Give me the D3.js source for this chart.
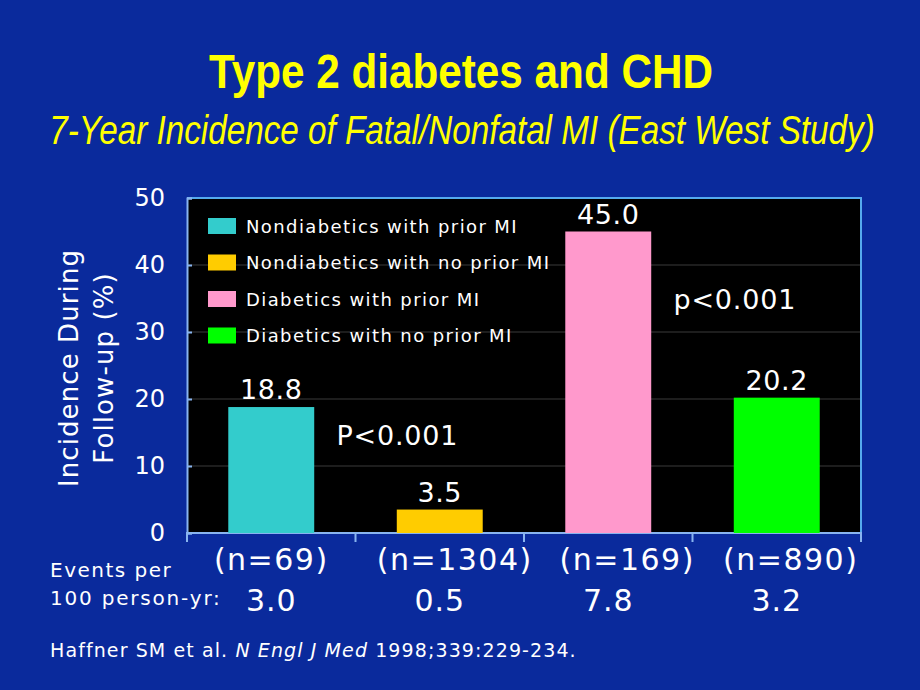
<!DOCTYPE html>
<html><head><meta charset="utf-8">
<script src="https://cdn.jsdelivr.net/npm/d3@7"></script>
<style>
html,body{margin:0;padding:0;background:#0a2a9c;}
svg{display:block;}
</style></head>
<body>
<script>
const categories = ["Nondiabetics with prior MI","Nondiabetics with no prior MI","Diabetics with prior MI","Diabetics with no prior MI"];
const values = [18.8, 3.5, 45.0, 20.2];
const valueLabels = ["18.8","3.5","45.0","20.2"];
const nLabels = ["(n=69)","(n=1304)","(n=169)","(n=890)"];
const eventRates = ["3.0","0.5","7.8","3.2"];
const colors = ["#33cccc","#ffcc00","#ff99cc","#00ff00"];
const yTicks = [0,10,20,30,40,50];
const pLabels = [{text:"P<0.001", band:1, y:13.1},{text:"p<0.001", band:3, y:33.5}];

const W=920,H=690;
const svg=d3.select("body").append("svg").attr("width",W).attr("height",H);
svg.append("rect").attr("width",W).attr("height",H).attr("fill","#0a2a9c");

const L=187,R=861,T=198,B=533;
const x=d3.scaleBand().domain(d3.range(categories.length)).range([L,R]).paddingInner(0.49).paddingOuter(0.245);
const band=d3.scaleBand().domain(d3.range(categories.length)).range([L,R]);
const y=d3.scaleLinear().domain([0,50]).range([B,T]);

// titles: condensed look via horizontal scaling
function narrowText(txt, cx, by, size, target, opts){
  const g=svg.append("g");
  const t=g.append("text").attr("x",0).attr("y",0).attr("text-anchor","middle")
   .attr("font-family","'Liberation Sans Narrow','Arial Narrow','Liberation Sans',Arial,sans-serif")
   .attr("font-size",size).attr("fill","#ffff00").text(txt);
  if(opts.bold) t.attr("font-weight","bold");
  if(opts.italic) t.attr("font-style","italic");
  const w=t.node().getComputedTextLength();
  g.attr("transform",`translate(${cx},${by}) scale(${target/w},1)`);
}
narrowText("Type 2 diabetes and CHD",461,88,48,504,{bold:true});
narrowText("7-Year Incidence of Fatal/Nonfatal MI (East West Study)",462,144,40,826,{italic:true});

// plot bg
svg.append("rect").attr("x",L).attr("y",T).attr("width",R-L).attr("height",B-T).attr("fill","#000");
// gridlines
svg.append("g").selectAll("line").data(yTicks.filter(d=>d>0&&d<50)).join("line")
 .attr("x1",L).attr("x2",R).attr("y1",d=>y(d)).attr("y2",d=>y(d)).attr("stroke","#3a3a3a").attr("stroke-width",1);
// top/right frame
svg.append("path").attr("d",`M${L},${T}H${R}V${B}`).attr("fill","none").attr("stroke","#55aaee").attr("stroke-width",2);

const font="Verdana,'DejaVu Sans',sans-serif";
// y axis
const yAxis=svg.append("g").attr("transform",`translate(${L},0)`).call(d3.axisLeft(y).tickValues(yTicks).tickSize(-5).tickPadding(22));
yAxis.select(".domain").attr("stroke","#88b4f0").attr("stroke-width",2);
yAxis.selectAll(".tick line").attr("stroke","#88b4f0").attr("stroke-width",2);
yAxis.selectAll("text").attr("font-family",font).attr("font-size",24).attr("fill","#fff");

// x axis
const xAxis=svg.append("g").attr("transform",`translate(0,${B})`);
xAxis.append("line").attr("x1",L-1).attr("x2",R+1).attr("stroke","#88b4f0").attr("stroke-width",2);
xAxis.selectAll("line.tk").data(d3.range(categories.length+1)).join("line").attr("class","tk")
 .attr("x1",i=>L+i*band.bandwidth()).attr("x2",i=>L+i*band.bandwidth()).attr("y1",0).attr("y2",9)
 .attr("stroke","#88b4f0").attr("stroke-width",2);

// bars
svg.append("g").selectAll("rect").data(values).join("rect")
 .attr("x",(d,i)=>x(i)).attr("width",x.bandwidth()).attr("y",d=>y(d)).attr("height",d=>B-y(d))
 .attr("fill",(d,i)=>colors[i]);
// value labels
svg.append("g").selectAll("text").data(values).join("text")
 .attr("x",(d,i)=>x(i)+x.bandwidth()/2).attr("y",d=>y(d)-8).attr("text-anchor","middle")
 .attr("font-family",font).attr("font-size",27).attr("letter-spacing",0.6).attr("fill","#fff").text((d,i)=>valueLabels[i]);

// p labels
svg.append("g").selectAll("text").data(pLabels).join("text")
 .attr("x",d=>band(d.band)-19).attr("y",d=>y(d.y))
 .attr("font-family",font).attr("font-size",27).attr("letter-spacing",0.8).attr("fill","#fff").text(d=>d.text);

// legend
const leg=svg.append("g").attr("transform","translate(208,226)");
categories.forEach((c,i)=>{
  const g=leg.append("g").attr("transform",`translate(0,${i*36.5})`);
  g.append("rect").attr("x",0).attr("y",-8).attr("width",28).attr("height",16).attr("fill",colors[i]);
  g.append("text").attr("x",38).attr("y",6.5).attr("font-family",font).attr("font-size",18).attr("letter-spacing",1.4).attr("fill","#fff").text(c);
});

// n labels
const nNudge=[0,15,19,14];
svg.append("g").selectAll("text").data(nLabels).join("text")
 .attr("x",(d,i)=>band(i)+band.bandwidth()/2+nNudge[i]).attr("y",570).attr("text-anchor","middle")
 .attr("font-family",font).attr("font-size",30).attr("letter-spacing",1.5).attr("fill","#fff").text(d=>d);
svg.append("g").selectAll("text").data(eventRates).join("text")
 .attr("x",(d,i)=>band(i)+band.bandwidth()/2).attr("y",611).attr("text-anchor","middle")
 .attr("font-family",font).attr("font-size",30).attr("letter-spacing",1).attr("fill","#fff").text(d=>d);
svg.append("text").attr("x",50).attr("y",577).attr("font-family",font).attr("font-size",20).attr("letter-spacing",1.5).attr("fill","#fff").text("Events per");
svg.append("text").attr("x",50).attr("y",605).attr("font-family",font).attr("font-size",20).attr("letter-spacing",1.8).attr("fill","#fff").text("100 person-yr:");

// y label
const yl=svg.append("text").attr("transform","translate(0,368) rotate(-90)").attr("text-anchor","middle")
 .attr("font-family",font).attr("font-size",26).attr("letter-spacing",1.1).attr("fill","#fff");
yl.append("tspan").attr("x",0).attr("y",78).text("Incidence During");
yl.append("tspan").attr("x",0).attr("y",113).text("Follow-up (%)");

// footer
const ft=svg.append("text").attr("x",50).attr("y",657).attr("font-family",font).attr("font-size",19).attr("letter-spacing",1.1).attr("fill","#fff");
ft.append("tspan").text("Haffner SM et al. ");
ft.append("tspan").attr("font-style","italic").text("N Engl J Med");
ft.append("tspan").text(" 1998;339:229-234.");
</script>
</body></html>
